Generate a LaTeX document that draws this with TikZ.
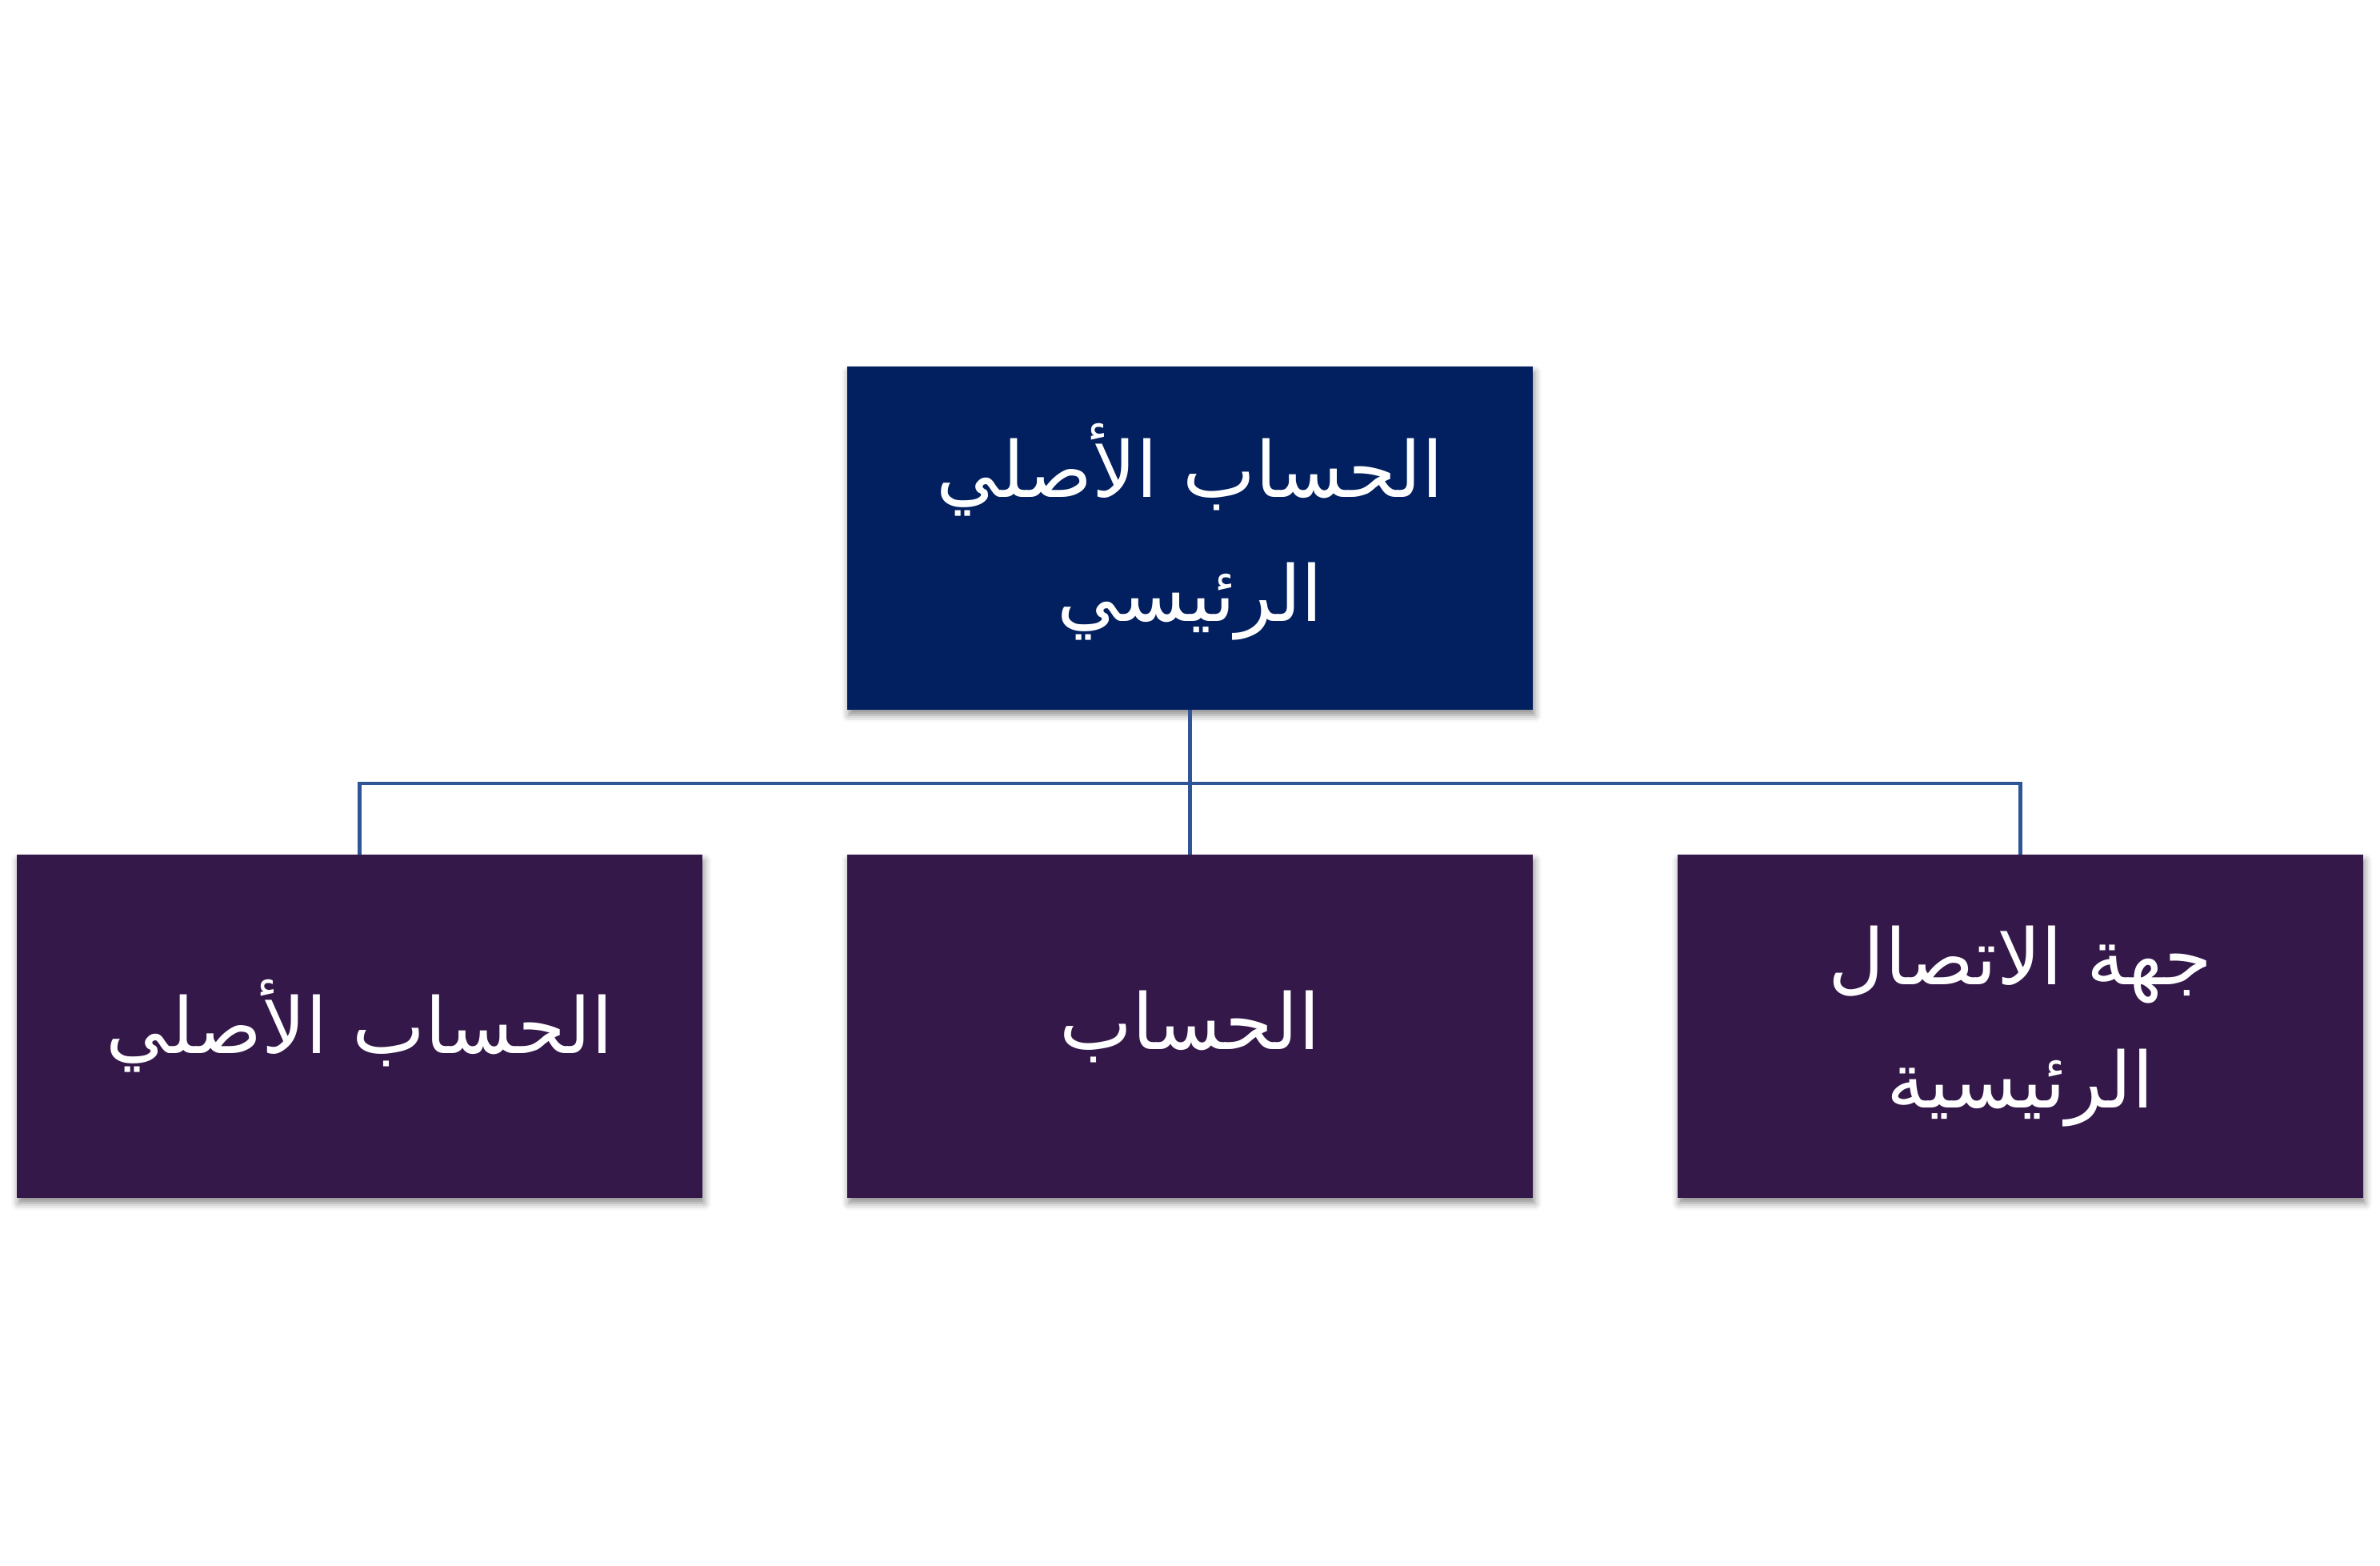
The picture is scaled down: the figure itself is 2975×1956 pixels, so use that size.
\documentclass[tikz,border=0pt]{standalone}
\usepackage{fontspec}
\usetikzlibrary{shadows.blur}
\TeXXeTstate=1
\newfontfamily\arabicfont[Script=Arabic]{DejaVu Sans}
\definecolor{topblue}{HTML}{02205F}
\definecolor{subpurple}{HTML}{35184A}
\definecolor{linkblue}{HTML}{2F5597}
\tikzset{
  boxbase/.style={rectangle, minimum width=8.57cm, minimum height=4.28cm, inner sep=0pt,
    text=white, align=center,
    font=\arabicfont\fontsize{27.5}{44}\selectfont,
    blur shadow={shadow xshift=0.6pt, shadow yshift=-2pt, shadow blur radius=2.5pt, shadow opacity=45}},
  topbox/.style={boxbase, fill=topblue},
  subbox/.style={boxbase, fill=subpurple},
  link/.style={draw=linkblue, line width=1.4pt}
}
\begin{document}
\begin{tikzpicture}[x=0.01cm, y=-0.01cm]
\useasboundingbox (0,0) rectangle (2975,1956);
\node[topbox] (top) at (1487.5,672.5) {\beginR الحساب الأصلي\endR\\\beginR الرئيسي\endR\\[-33pt]\mbox{}};
\node[subbox] (left) at (449.5,1282.5) {\beginR الحساب الأصلي\endR};
\node[subbox] (mid) at (1487.5,1282.5) {\beginR الحساب\endR};
\node[subbox] (right) at (2525.5,1282.5) {\beginR جهة الاتصال\endR\\\beginR الرئيسية\endR};
\coordinate (j) at (1487.5,979);
\draw[link] (top.south) -- (j);
\draw[link] (j) -- (mid.north);
\draw[link] (left.north) |- (j) -| (right.north);
\end{tikzpicture}
\end{document}
